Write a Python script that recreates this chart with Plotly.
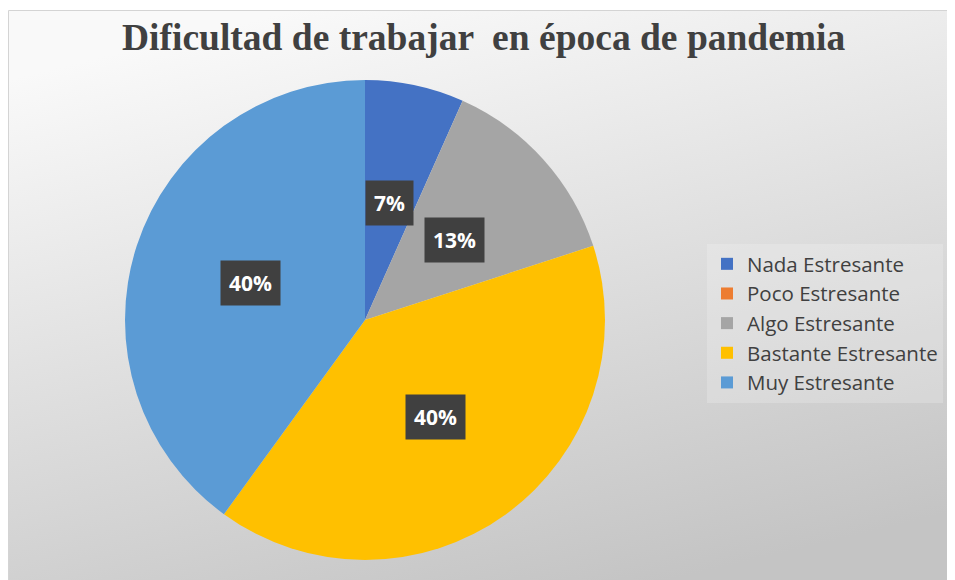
import base64, math
import plotly.graph_objects as go

categories = ["Nada Estresante", "Poco Estresante", "Algo Estresante", "Bastante Estresante", "Muy Estresante"]
counts = [2, 0, 4, 12, 12]
colors = ["#4472C4", "#ED7D31", "#A5A5A5", "#FFC000", "#5B9BD5"]
title_text = "Dificultad de trabajar  en época de pandemia"

# figure sits inside the page's 8px body margin
W, H = 947, 572
cx, cy, r = 357, 312, 240  # pie centre/radius in figure px

svg = ('<svg xmlns="http://www.w3.org/2000/svg" width="100" height="100" preserveAspectRatio="none" viewBox="0 0 100 100">'
       '<defs><linearGradient id="g" x1="0.3" y1="0" x2="0.7" y2="1">'
       '<stop offset="0" stop-color="#f9f9f9"/><stop offset="1" stop-color="#c4c4c4"/>'
       '</linearGradient></defs><rect width="100" height="100" fill="url(#g)"/></svg>')
bg_uri = "data:image/svg+xml;base64," + base64.b64encode(svg.encode()).decode()

fig = go.Figure(go.Pie(
    labels=categories, values=counts, sort=False, direction="clockwise", rotation=0,
    marker=dict(colors=colors, line=dict(width=0)),
    textinfo="none", hoverinfo="label+percent",
    domain=dict(x=[(cx - r) / W, (cx + r) / W], y=[1 - (cy + r) / H, 1 - (cy - r) / H]),
))

# percentage labels at half radius along each slice's mid-angle
total = sum(counts)
annotations = []
acc = 0
for v in counts:
    if v > 0:
        mid = (acc + v / 2) / total * 2 * math.pi
        px = cx + 0.5 * r * math.sin(mid)
        py = cy - 0.5 * r * math.cos(mid)
        annotations.append(dict(
            x=px / W, y=1 - py / H, xref="paper", yref="paper", showarrow=False,
            text=f"{round(v / total * 100)}%",
            font=dict(family="Open Sans", size=21, color="white", weight="bold"),
            bgcolor="#404040", borderpad=8, xanchor="center", yanchor="middle"))
    acc += v

annotations.append(dict(
    x=475 / W, y=1 - 29 / H, xref="paper", yref="paper", showarrow=False,
    text=f"<b>{title_text}</b>", font=dict(family="Liberation Serif", size=37.5, color="#404040"),
    xanchor="center", yanchor="middle"))

fig.update_layout(
    width=W, height=H, margin=dict(l=0, r=0, t=0, b=0),
    paper_bgcolor="white", plot_bgcolor="rgba(0,0,0,0)",
    images=[dict(source=bg_uri, xref="paper", yref="paper", x=0, y=1 - 3 / H,
                 sizex=1, sizey=(H - 3) / H, sizing="stretch",
                 xanchor="left", yanchor="top", layer="below")],
    shapes=[dict(type="line", xref="paper", yref="paper", x0=0.5 / W, x1=1, y0=1 - 2.5 / H, y1=1 - 2.5 / H,
                 line=dict(color="#d4d4d4", width=1), layer="below"),
            dict(type="line", xref="paper", yref="paper", x0=0.5 / W, x1=0.5 / W, y0=0, y1=1 - 2.5 / H,
                 line=dict(color="#d4d4d4", width=1), layer="below")],
    annotations=annotations,
    legend=dict(x=699 / W, y=1 - 236 / H, xanchor="left", yanchor="top",
                font=dict(family="Open Sans", size=20.5, color="#404040"),
                bgcolor="rgba(255,255,255,0.2)", itemclick=False),
    showlegend=True,
)

fig.write_html("out.html")
